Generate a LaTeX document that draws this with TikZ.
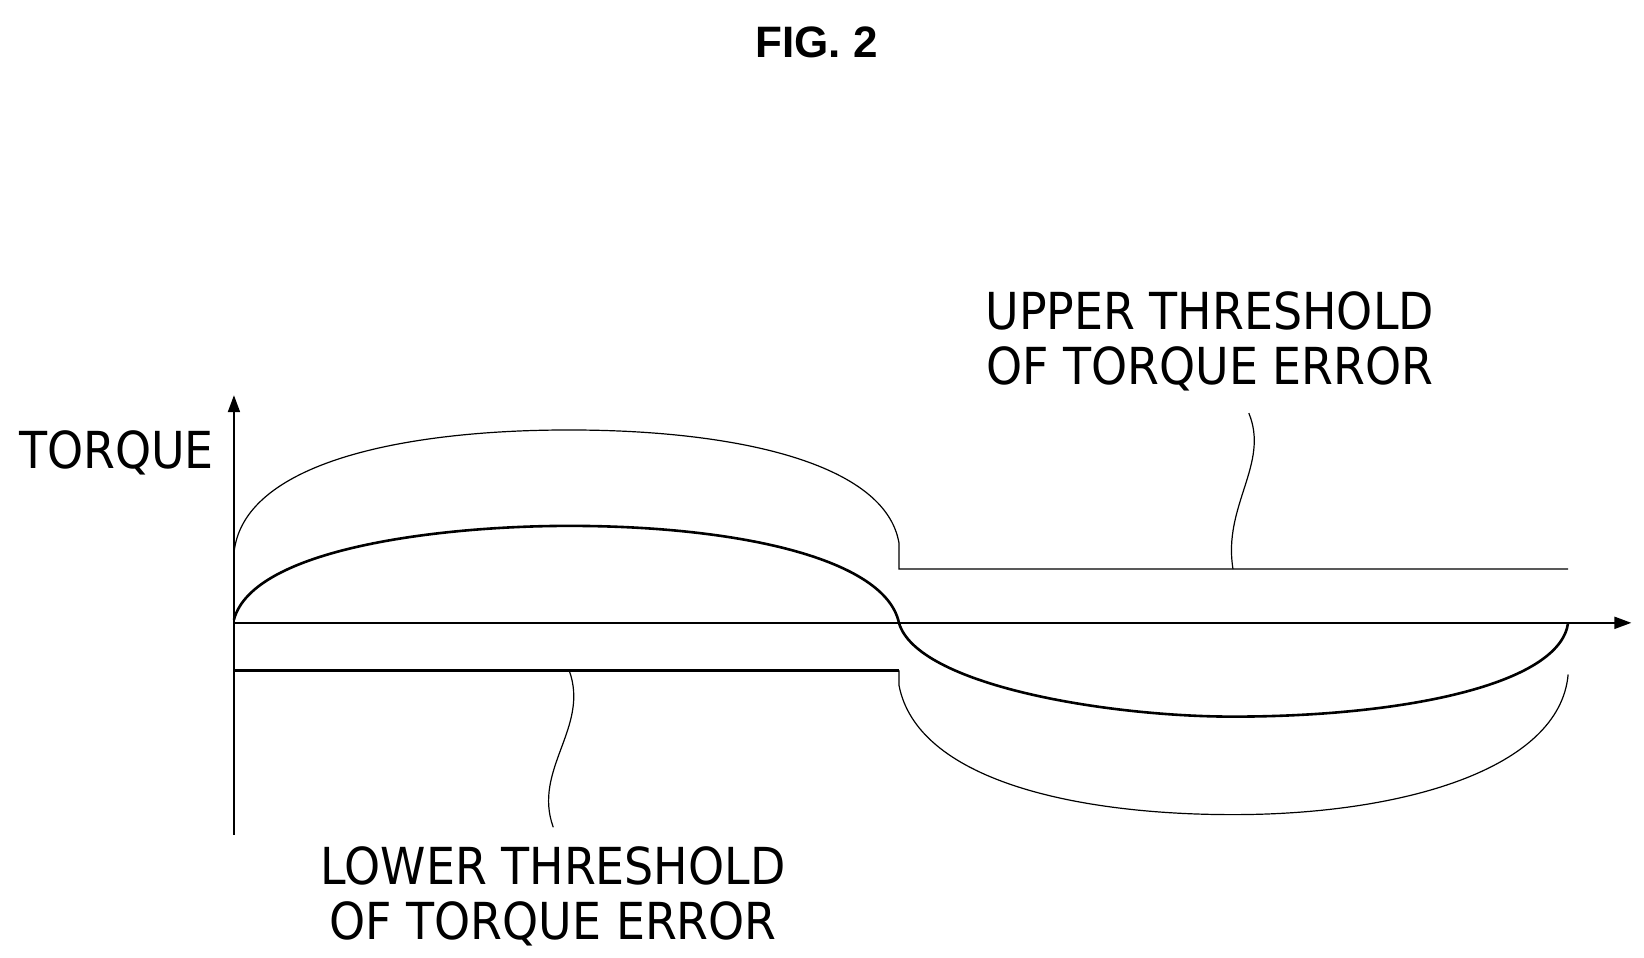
\documentclass[tikz,border=0pt]{standalone}
\usepackage{fontspec}
\setmainfont{DejaVu Sans Condensed}
\newfontfamily\titlefont{Liberation Sans}
\usetikzlibrary{arrows.meta}
\begin{document}
\begin{tikzpicture}[x=1.054pt,y=-1.054pt,
  lbl/.style={font=\fontsize{51}{55}\selectfont, align=center, inner sep=0},
  thin/.style={line width=1.2pt},
  thick/.style={line width=2.6pt},
  ax/.style={line width=2pt,-{Triangle[length=17pt,width=12pt]}}]
\useasboundingbox (0,0) rectangle (1560,909);
\node[font=\titlefont\fontsize{44}{50}\selectfont\bfseries] (title) at (775,40) {FIG. 2};
\coordinate (o) at (222,591);
\coordinate (ytop) at (222,375);
\coordinate (ybot) at (222,792);
\coordinate (xend) at (1548,591);
\draw[ax] (ybot) -- (ytop);
\draw[ax] (o) -- (xend);
\node[lbl,anchor=west] (tq) at (18,430) {TORQUE};
% upper threshold
\draw[thin] (222,525) .. controls (230,440) and (380,408) .. (540,408) .. controls (700,408) and (840,440) .. (853,515) -- (853,540) -- (1488,540);
% torque
\draw[thick] (222,588) .. controls (240,520) and (420,499) .. (540,499) .. controls (700,499) and (840,530) .. (853,591) .. controls (870,650) and (1050,680) .. (1170,680) .. controls (1330,680) and (1480,650) .. (1488,591);
% lower threshold
\draw[thick] (222,636) -- (853,636);
\draw[thin] (853,636) -- (853,650) .. controls (870,740) and (1020,773) .. (1170,773) .. controls (1330,773) and (1480,730) .. (1488,640);
% leaders
\node[lbl] (up) at (1148,324) {UPPER THRESHOLD\\OF TORQUE ERROR};
\node[lbl] (lo) at (525,851) {LOWER THRESHOLD\\OF TORQUE ERROR};
\coordinate (u1) at (1185,392);
\coordinate (u2) at (1170,540);
\coordinate (l1) at (540,636);
\coordinate (l2) at (525,785);
\draw[thin] (u1) .. controls (1205,440) and (1160,480) .. (u2);
\draw[thin] (l1) .. controls (560,690) and (505,730) .. (l2);
\end{tikzpicture}
\end{document}
